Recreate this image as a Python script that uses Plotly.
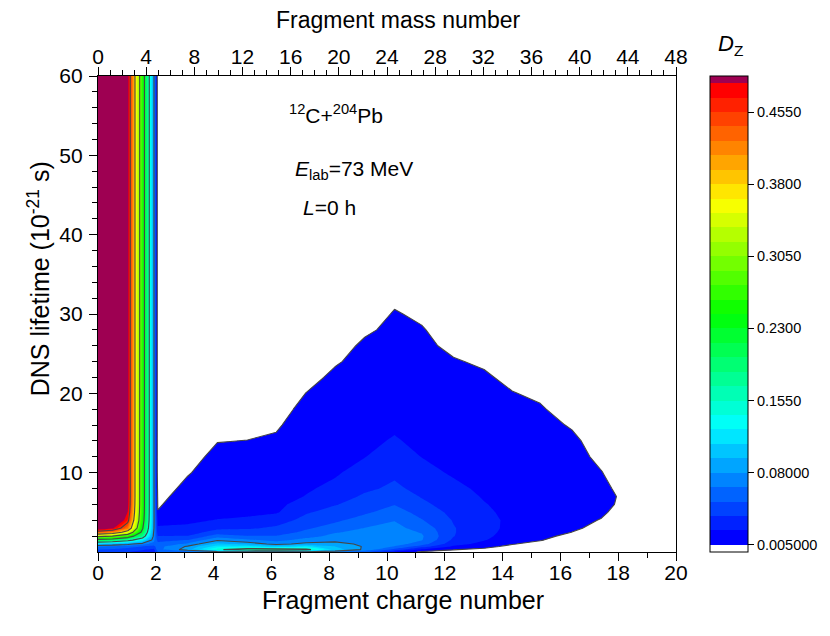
import numpy as np
import plotly.graph_objects as go

# grid: fragment charge number (columns) and DNS lifetime in 1e-21 s (rows)
charge = [0, 0.5, 1.03, 1.54, 1.93, 2.07, 3.1, 4.13, 5.17, 6.17, 7.2, 8.2, 9.23,
          10.26, 11.2, 12.3, 13.36, 14.33, 15.3, 16.4, 17.42, 18.5, 20]
lifetime = [0, 0.3, 0.7, 1, 1.5, 2, 2.5, 3, 4, 5, 6, 7, 8, 10, 12, 14, 16, 18,
            20, 22, 24, 26, 28, 30, 32, 60]

# D_Z x 1000, one list per charge column, listed from lifetime 0 upwards
dz_columns = [
    [40, 50, 66, 100, 210, 320, 440, 510, 565, 585, 595, 600, 600, 600, 600, 600, 600, 600, 600, 600, 600, 600, 600, 600, 600, 600],
    [38, 47, 62, 95, 200, 305, 420, 490, 540, 552, 558, 560, 560, 560, 560, 560, 560, 560, 560, 560, 560, 560, 560, 560, 560, 560],
    [35, 43, 56, 85, 170, 265, 355, 425, 468, 484, 492, 495, 495, 495, 495, 495, 495, 495, 495, 495, 495, 495, 495, 495, 495, 495],
    [30, 37, 50, 70, 125, 180, 215, 235, 252, 258, 260, 260, 260, 260, 260, 260, 260, 260, 260, 260, 260, 260, 260, 260, 260, 260],
    [25, 31, 44, 60, 70, 75, 78, 83, 85, 85, 85, 85, 85, 85, 85, 85, 85, 85, 85, 85, 85, 85, 85, 85, 85, 85],
    [50, 60, 60, 55, 45, 35, 27, 22, 15, 5.8, 3.3, 0.9, -1.5, -6.4, -8, -8, -8, -8, -8, -8, -8, -8, -8, -8, -8, -8],
    [60, 88, 82, 68, 50.5, 35.5, 28, 22, 18, 15.5, 13.6, 11.2, 8.8, 3.9, -0.9, -8, -8, -8, -8, -8, -8, -8, -8, -8, -8, -8],
    [65, 150, 118, 100, 78, 58, 41, 32, 20.5, 17, 15, 14, 13, 12, 9.4, 4.46, -1, -8, -8, -8, -8, -8, -8, -8, -8, -8],
    [70, 175, 120, 90, 68, 50.5, 42, 33, 22, 17.5, 15, 14, 13, 12, 10.7, 5.3, -0.2, -5.6, -8, -8, -8, -8, -8, -8, -8, -8],
    [70, 178, 100, 75, 60, 51, 43, 37.5, 28, 18.5, 16, 15, 14, 13, 12, 7.45, 3.0, -0.9, -8, -8, -8, -8, -8, -8, -8, -8],
    [68, 165, 115, 85, 70, 60, 53, 48, 40, 33.5, 27, 20.5, 18.5, 16, 14.5, 13.5, 13.3, 9.4, 5.3, -1.1, -8, -8, -8, -8, -8, -8],
    [66, 105, 95, 85, 76, 69, 64, 57, 47, 40.5, 34, 27, 23, 18.5, 16, 14.5, 13.5, 12.5, 12, 8.9, 3.1, -2.2, -8, -8, -8, -8],
    [55, 76, 78, 77, 74, 71, 68, 65.5, 57, 47.5, 42, 37.5, 32, 25, 19.7, 17, 15, 13.5, 12.5, 11.5, 11, 8.1, 2.3, -5, -8, -8],
    [18, 45, 64, 72, 74, 73, 71, 69, 64.5, 57, 49.5, 44, 38, 32, 26, 21.2, 18, 15.5, 13.5, 12, 11, 10, 9, 6.6, 1.2, -8],
    [2, 18, 42, 57, 66, 67, 64, 60, 51, 44.5, 38.5, 34, 30.5, 24, 19.8, 17, 15, 13.5, 12, 11, 10, 9, 6.5, 1.5, -4, -8],
    [1, 5.5, 18, 26, 32, 35.5, 36, 36, 34, 31, 28, 25.5, 23, 18.5, 16, 14, 13, 12, 11, 10, 6.5, 1.1, -4.5, -8, -8, -8],
    [-3, 2, 9, 15, 21, 23.5, 24.5, 24.5, 23.5, 22, 20.7, 19, 17.5, 15.5, 14, 13, 12, 11, 10.5, 7.7, 2.3, -8, -8, -8, -8, -8],
    [-8, -4, 1.5, 5.8, 10, 13, 15, 16.5, 17.5, 17, 16, 15, 14, 13, 12, 11.5, 11, 10.5, 5.8, 0.4, -8, -8, -8, -8, -8, -8],
    [-8, -6, -3, 0.5, 6, 9, 11, 12.5, 14, 14.5, 14, 13.5, 13, 12, 11.5, 11, 10, 7, 1.6, -8, -8, -8, -8, -8, -8, -8],
    [-8, -8, -8, -6, -3, 1, 4.9, 6.4, 9.1, 10.5, 11, 11, 11, 10.5, 10, 8.2, 3.6, -3.5, -8, -8, -8, -8, -8, -8, -8, -8],
    [-8, -8, -8, -8, -8, -8, -5.3, 2.5, 4.3, 7, 9.5, 10.2, 8.6, 5.5, 1.8, -2, -6, -8, -8, -8, -8, -8, -8, -8, -8, -8],
    [-8, -8, -8, -8, -8, -8, -8, -8, -6.9, -3, -1.3, -0.6, -2.2, -5.3, -8, -8, -8, -8, -8, -8, -8, -8, -8, -8, -8, -8],
    [-8] * 26,
]
dz = (np.array(dz_columns, dtype=float).T / 1000.0).tolist()

mass_ticks = list(range(0, 49, 4))
time_ticks = [10, 20, 30, 40, 50, 60]
cb_ticks = [0.005, 0.08, 0.155, 0.23, 0.305, 0.38, 0.455]
cb_text = ["0.005000", "0.08000", "0.1550", "0.2300", "0.3050", "0.3800", "0.4550"]

FONT = "Liberation Sans"
n_lev = 33  # 0.005 ... 0.485 step 0.015
cscale = [
    [0, "rgb(255,255,255)"],
    [1 / n_lev, "rgb(0,0,255)"],
    [8.75 / n_lev, "rgb(0,255,255)"],
    [16.5 / n_lev, "rgb(0,255,0)"],
    [24.25 / n_lev, "rgb(255,255,0)"],
    [32 / n_lev, "rgb(255,0,0)"],
    [1, "rgb(158,0,82)"],
]

fig = go.Figure()
fig.add_trace(go.Contour(
    x=charge, y=lifetime, z=dz, colorscale=cscale, autocontour=False,
    contours=dict(start=0.005, end=0.485, size=0.015, coloring="fill", showlines=False),
    line=dict(width=0, smoothing=0), hoverinfo="skip",
    colorbar=dict(
        thickness=38, len=1.0, lenmode="fraction", y=0.5, yanchor="middle",
        x=1.058, xanchor="left", xpad=0, ypad=0,
        outlinewidth=1, outlinecolor="black",
        ticks="outside", ticklen=6, tickcolor="black",
        tickmode="array", tickvals=cb_ticks, ticktext=cb_text,
        tickfont=dict(family=FONT, size=14.5, color="black"),
    ),
))
fig.add_trace(go.Contour(
    x=charge, y=lifetime, z=dz, autocontour=False, showscale=False,
    contours=dict(start=0.005, end=0.455, size=0.075, coloring="none"),
    line=dict(color="rgb(70,70,70)", width=1.1, smoothing=0), hoverinfo="skip",
))
# empty trace to carry the top (mass number) axis
fig.add_trace(go.Scatter(x=mass_ticks, y=[None] * len(mass_ticks), xaxis="x2",
                         showlegend=False, hoverinfo="skip"))

axis_style = dict(showline=True, linecolor="black", linewidth=1.3, showgrid=False,
                  zeroline=False, ticks="outside", ticklen=8, tickwidth=1.3,
                  tickcolor="black", tickfont=dict(family=FONT, size=21, color="black"))
minor_style = dict(ticks="outside", ticklen=5, tickwidth=1.3, tickcolor="black")

# the page adds an 8px body margin, so the figure is 8px smaller and shifted
fig.update_layout(
    width=822, height=628,
    margin=dict(l=90, r=150, t=68, b=84),
    paper_bgcolor="white", plot_bgcolor="white",
    showlegend=False,
    xaxis=dict(range=[0, 20], dtick=2, tick0=0, ticklabelstandoff=-6,
               minor=dict(dtick=1, **minor_style), **axis_style),
    xaxis2=dict(range=[0, 48], dtick=4, tick0=0, overlaying="x", side="top", anchor="y",
                ticklabelstandoff=-6, minor=dict(dtick=1, **minor_style), **axis_style),
    yaxis=dict(range=[0, 60], tickmode="array", tickvals=time_ticks, mirror=True,
               ticklabelstandoff=2,
               minor=dict(tickmode="array", tickvals=[v for v in range(2, 60, 2) if v % 10], **minor_style),
               **axis_style),
    annotations=[
        dict(text="Fragment charge number", x=0.527, y=-0.101, xref="paper", yref="paper",
             xanchor="center", yanchor="middle",
             showarrow=False, font=dict(family=FONT, size=25, color="black")),
        dict(text="Fragment mass number", x=0.519, y=1.118, xref="paper", yref="paper",
             xanchor="center", yanchor="middle",
             showarrow=False, font=dict(family=FONT, size=23, color="black")),
        dict(text="DNS lifetime (10<sup>-21</sup> s)", x=-0.103, y=0.574, xref="paper", yref="paper",
             xanchor="center", yanchor="middle",
             textangle=-90, showarrow=False, font=dict(family=FONT, size=25, color="black")),
        dict(text="<i>D</i><sub>Z</sub>", x=1.094, y=1.065, xref="paper", yref="paper",
             xanchor="center", yanchor="middle",
             showarrow=False, font=dict(family=FONT, size=22, color="black")),
        dict(text="<sup>12</sup>C+<sup>204</sup>Pb", x=0.412, y=0.92, xref="paper", yref="paper",
             xanchor="center", yanchor="middle",
             showarrow=False, font=dict(family=FONT, size=21, color="black")),
        dict(text="<i>E</i><sub>lab</sub>=73 MeV", x=0.443, y=0.803, xref="paper", yref="paper",
             xanchor="center", yanchor="middle",
             showarrow=False, font=dict(family=FONT, size=21, color="black")),
        dict(text="<i>L</i>=0 h", x=0.352, y=0.723, xref="paper", yref="paper",
             xanchor="left", yanchor="middle",
             showarrow=False, font=dict(family=FONT, size=21, color="black")),
    ],
)

fig.write_html("out.html")
